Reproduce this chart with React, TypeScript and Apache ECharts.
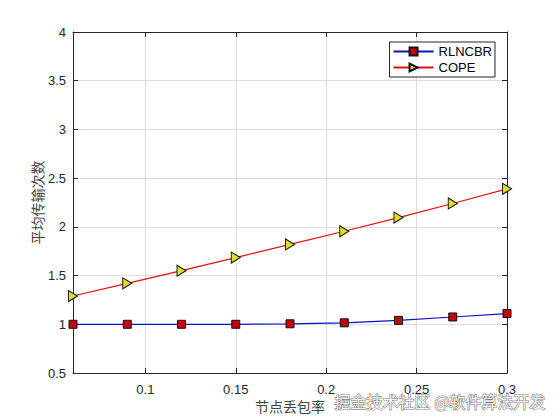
import React, { useEffect, useRef } from "react";
import * as echarts from "echarts";

const xValues = [0.06, 0.09, 0.12, 0.15, 0.18, 0.21, 0.24, 0.27, 0.3];
const rlncbr = [1.0, 1.0, 1.0, 1.0, 1.005, 1.015, 1.04, 1.075, 1.11];
const cope = [1.29, 1.42, 1.55, 1.685, 1.82, 1.955, 2.095, 2.24, 2.39];
const xTicks = [0.1, 0.15, 0.2, 0.25, 0.3];
const seriesNames = ["RLNCBR", "COPE"];
const xName = "节点丢包率";
const yName = "平均传输次数";
const watermark = "掘金技术社区 @软件算法开发";

const tickFont = { fontFamily: "Liberation Sans, Arial, sans-serif", fontSize: 13, color: "#262626" };

export default function App() {
  const ref = useRef<HTMLDivElement>(null);
  useEffect(() => {
    if (!ref.current) return;
    const chart = echarts.init(ref.current, undefined, { renderer: "svg" });
    const axisLine = { show: true, lineStyle: { color: "#262626", width: 1 } };
    const axisTick = { show: true, inside: true, length: 5, lineStyle: { color: "#262626" } };
    chart.setOption({
      animation: false,
      backgroundColor: "#fff",
      grid: { left: 73, right: 53, top: 32, bottom: 47, containLabel: false, outerBoundsMode: "none" },
      legend: {
        orient: "vertical",
        right: 65,
        top: 42,
        data: seriesNames,
        itemWidth: 40,
        itemHeight: 10,
        itemGap: 3,
        padding: [3, 3, 3, 3],
        borderColor: "#262626",
        borderWidth: 1,
        backgroundColor: "#fff",
        textStyle: { fontFamily: "Liberation Sans, Arial, sans-serif", fontSize: 13, color: "#000" },
      },
      xAxis: [
        {
          type: "value",
          min: 0.06,
          max: 0.3,
          axisLine,
          axisTick: { ...axisTick, customValues: xTicks },
          axisLabel: { ...tickFont, margin: 10, customValues: xTicks, formatter: (v: number) => String(+v.toFixed(2)) },
          splitLine: { show: true, lineStyle: { color: "#dcdcdc", width: 1 } },
          name: xName,
          nameLocation: "middle",
          nameGap: 26,
          nameMoveOverlap: false,
          nameTextStyle: { fontFamily: "Noto Sans CJK SC", fontSize: 14, color: "#444" },
        },
        {
          type: "value",
          position: "top",
          min: 0.06,
          max: 0.3,
          axisLine,
          axisTick: { ...axisTick, customValues: xTicks },
          axisLabel: { show: false, customValues: xTicks },
          splitLine: { show: false },
        },
      ],
      yAxis: [
        {
          type: "value",
          min: 0.5,
          max: 4,
          interval: 0.5,
          axisLine,
          axisTick,
          axisLabel: { ...tickFont, margin: 7 },
          splitLine: { show: true, lineStyle: { color: "#dcdcdc", width: 1 } },
          name: yName,
          nameLocation: "middle",
          nameGap: 29,
          nameMoveOverlap: false,
          nameTextStyle: { fontFamily: "Noto Sans CJK SC", fontSize: 14, color: "#444" },
        },
        {
          type: "value",
          position: "right",
          min: 0.5,
          max: 4,
          interval: 0.5,
          axisLine,
          axisTick,
          axisLabel: { show: false },
          splitLine: { show: false },
        },
      ],
      series: [
        {
          name: seriesNames[0],
          type: "line",
          data: xValues.map((x, i) => [x, rlncbr[i]]),
          symbol: "rect",
          symbolSize: 8,
          lineStyle: { color: "#1010c8", width: 1.2 },
          itemStyle: { color: "#c80000", borderColor: "#111", borderWidth: 1 },
          z: 3,
        },
        {
          name: seriesNames[1],
          type: "line",
          data: xValues.map((x, i) => [x, cope[i]]),
          symbol: "triangle",
          symbolSize: [11, 9],
          symbolRotate: -90,
          lineStyle: { color: "#dd1111", width: 1.2 },
          itemStyle: { color: "#dede22", borderColor: "#111", borderWidth: 1 },
          z: 3,
        },
      ],
      graphic: [
        {
          type: "text",
          left: 334,
          top: 392,
          z: 100,
          style: {
            text: watermark,
            font: "16px 'Noto Sans CJK SC'",
            fill: "rgba(255,255,255,0.92)",
            stroke: "rgba(90,90,90,0.75)",
            lineWidth: 1.2,
          },
        },
      ],
    });
    return () => chart.dispose();
  }, []);
  return <div ref={ref} style={{ width: 560, height: 420, position: "absolute", left: 0, top: 0 }} />;
}
